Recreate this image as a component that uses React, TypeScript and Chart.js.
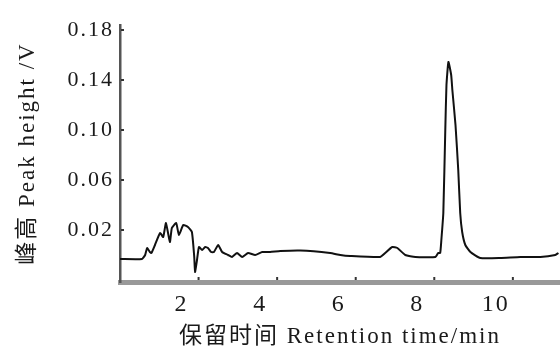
import React, { useEffect, useRef } from "react";
import { Chart, registerables } from "chart.js";

Chart.register(...registerables);

// Retention time (min)
const TIMES = [
  0.0, 0.56, 0.64, 0.69, 0.76, 0.8, 0.89, 1.02, 1.1, 1.17, 1.27, 1.32, 1.43, 1.5, 1.61, 1.73,
  1.83, 1.89, 1.91, 1.96, 2.01, 2.09, 2.17, 2.24, 2.32, 2.39, 2.5, 2.6, 2.75, 2.85, 2.98,
  3.11, 3.26, 3.44, 3.62, 3.82, 4.08, 4.59, 5.35, 5.61, 5.86, 6.62, 6.75, 6.93, 7.06, 7.26,
  7.52, 8.03, 8.1, 8.15, 8.18, 8.23, 8.28, 8.31, 8.36, 8.43, 8.46, 8.54, 8.61, 8.66, 8.71,
  8.79, 8.92, 9.17, 9.68, 10.19, 10.7, 11.08, 11.16,
];
// Peak height (V)
const SIGNAL = [
  -0.0032, -0.0032, 0.0, 0.0056, 0.0024, 0.0016, 0.008, 0.0176, 0.0144, 0.0256, 0.0104,
  0.0216, 0.0256, 0.016, 0.024, 0.0224, 0.0184, -0.0016, -0.0136, -0.004, 0.0064, 0.004,
  0.0064, 0.0056, 0.0024, 0.0024, 0.008, 0.0024, 0.0, -0.0016, 0.0016, -0.0016, 0.0016,
  0.0, 0.0024, 0.0024, 0.0032, 0.0036, 0.0016, 0.0, -0.0008, -0.0016, 0.0016, 0.0064,
  0.0056, 0.0, -0.0016, -0.0016, 0.0016, 0.0016, 0.012, 0.0336, 0.1, 0.136, 0.1544, 0.144,
  0.132, 0.104, 0.068, 0.0336, 0.0184, 0.008, 0.0024, -0.0024, -0.0024, -0.0016, -0.0016,
  0.0, 0.0016,
];

const X_TICKS = [2, 4, 6, 8, 10];
const Y_TICKS = [0.02, 0.06, 0.1, 0.14, 0.18];

const X_TITLE = "保留时间 Retention time/min";
const Y_TITLE = "峰高 Peak height /V";

const FONT = "'Liberation Serif', 'Noto Sans CJK SC', serif";
const TEXT = "#1a1a1a";

export default function App() {
  const ref = useRef<HTMLCanvasElement | null>(null);

  useEffect(() => {
    const canvas = ref.current;
    if (!canvas) return;
    const spacing = {
      id: "spacingAndTicks",
      beforeUpdate(chart: any) {
        chart.ctx.letterSpacing = "2px";
      },
      beforeDraw(chart: any) {
        chart.ctx.letterSpacing = "2px";
      },
      afterDraw(chart: any) {
        const ctx = chart.ctx;
        const xs = chart.scales.x;
        const ys = chart.scales.y;
        const area = chart.chartArea;
        ctx.save();
        ctx.strokeStyle = "#333";
        ctx.lineWidth = 2;
        X_TICKS.forEach((v) => {
          const px = xs.getPixelForValue(v);
          ctx.beginPath();
          ctx.moveTo(px, area.bottom - 2);
          ctx.lineTo(px, area.bottom - 5);
          ctx.stroke();
        });
        Y_TICKS.forEach((v) => {
          const py = ys.getPixelForValue(v);
          ctx.beginPath();
          ctx.moveTo(area.left + 1, py);
          ctx.lineTo(area.left + 4, py);
          ctx.stroke();
        });
        ctx.restore();
      },
    };

    const chart = new Chart(canvas, {
      type: "line",
      data: {
        datasets: [
          {
            data: TIMES.map((t, i) => ({ x: t, y: SIGNAL[i] })),
            borderColor: "#111",
            borderWidth: 2,
            pointRadius: 0,
            tension: 0.15,
            fill: false,
          },
        ],
      },
      options: {
        animation: false,
        responsive: false,
        events: [],
        layout: { padding: { top: 25, right: 0, left: 0, bottom: 0 } },
        plugins: { legend: { display: false }, tooltip: { enabled: false } },
        scales: {
          x: {
            type: "linear",
            min: 0,
            max: 11.2,
            grid: { display: false, drawTicks: false },
            border: { display: true, color: "#999", width: 5 },
            afterBuildTicks: (scale: any) => {
              scale.ticks = X_TICKS.map((v) => ({ value: v }));
            },
            afterFit: (scale: any) => {
              scale.height = 74;
            },
            ticks: {
              autoSkip: false,
              maxRotation: 0,
              padding: 8,
              labelOffset: -17,
              color: TEXT,
              font: { family: FONT, size: 24 },
              callback: (v: any) => String(v),
            },
            title: {
              display: true,
              text: X_TITLE,
              color: TEXT,
              font: { family: FONT, size: 23 },
              padding: { top: 0, bottom: 5 },
            },
          },
          y: {
            type: "linear",
            min: -0.0216,
            max: 0.184,
            grid: { display: false, drawTicks: false },
            border: { display: true, color: "#555", width: 2.5 },
            afterBuildTicks: (scale: any) => {
              scale.ticks = Y_TICKS.map((v) => ({ value: v }));
            },
            afterFit: (scale: any) => {
              scale.width = 120;
            },
            ticks: {
              autoSkip: false,
              padding: 6,
              color: TEXT,
              font: { family: FONT, size: 22 },
              callback: (v: any) => Number(v).toFixed(2),
            },
            title: {
              display: true,
              text: Y_TITLE,
              color: TEXT,
              font: { family: FONT, size: 23 },
              padding: { top: 14, bottom: 0 },
            },
          },
        },
      },
      plugins: [spacing],
    });
    return () => chart.destroy();
  }, []);

  return (
    <div style={{ position: "fixed", left: 0, top: 0, width: 560, height: 356, background: "#fff" }}>
      <canvas ref={ref} width={560} height={356} style={{ width: 560, height: 356 }} />
    </div>
  );
}
